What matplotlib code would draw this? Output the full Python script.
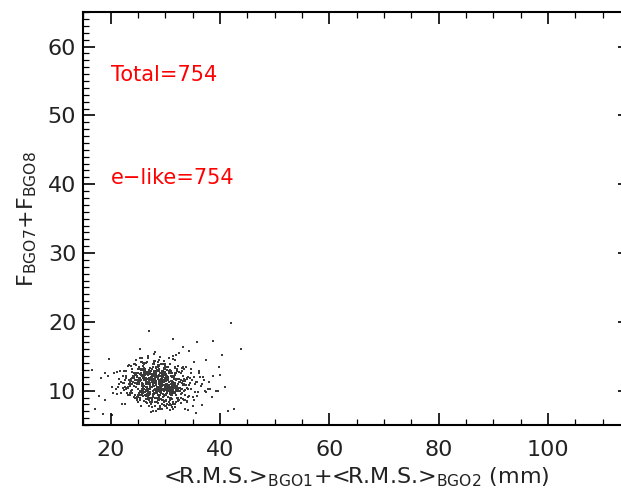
import numpy as np
import matplotlib
matplotlib.use("Agg")
import matplotlib.pyplot as plt
from matplotlib.ticker import MultipleLocator

plt.rcParams['font.family'] = ['DejaVu Sans']
plt.rcParams['mathtext.default'] = 'regular'

# <R.M.S.>_BGO1 + <R.M.S.>_BGO2 (mm) for each selected event
rms_sum = [
    28.4, 31.2, 26.7, 29.9, 33.5, 24.8, 27.3, 30.6, 22.9, 29.1, 35.2, 27.8, 25.6, 31.9, 28.7, 30.3, 26.1, 23.7, 32.4, 29.5, 27.0, 34.1, 28.9, 25.2, 30.8, 21.4,
    29.7, 26.4, 32.8, 28.1, 24.3, 30.1, 27.5, 36.4, 29.3, 25.9, 31.5, 28.6, 22.5, 30.9, 27.2, 33.1, 26.8, 29.0, 24.6, 31.7, 28.3, 19.8, 30.4, 27.7, 34.8, 26.2,
    30.2, 25.4, 28.8, 32.1, 27.1, 29.6, 23.9, 31.3, 26.5, 38.2, 28.0, 30.7, 25.1, 29.4, 33.8, 27.6, 24.1, 31.0, 28.5, 26.0, 32.6, 29.8, 21.9, 27.4, 30.5, 35.7,
    27.9, 31.6, 24.9, 29.2, 26.3, 33.3, 28.2, 30.0, 22.2, 27.0, 31.8, 25.7, 29.5, 34.5, 26.9, 28.4, 32.3, 23.4, 30.6, 27.3, 29.0, 36.9, 25.3, 31.1, 28.7, 26.6,
    32.0, 27.8, 29.9, 24.4, 30.3, 26.2, 28.6, 33.7, 25.8, 31.4, 20.7, 29.3, 27.1, 30.8, 35.0, 26.7, 28.9, 23.1, 31.2, 29.7, 25.5, 32.9, 27.5, 30.1, 24.0, 28.3,
    26.4, 30.9, 28.1, 33.9, 25.0, 29.6, 31.5, 27.2, 22.8, 30.4, 28.8, 26.1, 37.5, 29.1, 24.7, 31.9, 27.7, 30.0, 26.9, 34.2, 28.5, 23.6, 32.5, 29.4, 25.9, 30.7,
    29.0, 24.5, 31.7, 27.4, 30.2, 26.6, 33.0, 28.0, 21.2, 29.8, 32.2, 25.6, 28.7, 30.5, 27.3, 35.9, 26.3, 31.0, 24.2, 29.2, 28.2, 32.7, 25.4, 30.3, 27.9, 18.6,
    31.3, 28.6, 25.2, 30.1, 27.6, 34.0, 29.5, 23.3, 31.6, 26.8, 28.9, 32.4, 24.8, 30.6, 27.1, 29.9, 33.6, 25.7, 28.4, 31.1, 22.4, 29.3, 26.5, 30.8, 36.2, 27.8,
    27.5, 30.0, 32.9, 26.2, 29.7, 24.6, 31.2, 28.3, 25.9, 33.4, 29.0, 27.0, 30.7, 23.0, 28.8, 31.8, 26.4, 29.6, 34.7, 25.1, 30.4, 27.7, 32.1, 28.1, 24.3, 30.9,
    28.9, 25.8, 31.4, 29.1, 27.2, 30.5, 22.1, 32.6, 26.7, 29.4, 35.4, 28.0, 24.9, 31.0, 27.6, 30.2, 26.0, 33.2, 29.8, 23.8, 28.5, 31.5, 25.3, 30.1, 27.3, 39.6,
    30.6, 27.0, 24.1, 29.3, 32.3, 26.5, 28.7, 31.1, 25.5, 30.8, 27.9, 34.3, 29.0, 23.5, 28.2, 31.7, 26.9, 29.9, 33.1, 25.0, 30.3, 28.4, 21.6, 27.4, 32.0, 29.5,
    26.1, 29.6, 31.9, 28.1, 24.7, 30.0, 27.8, 33.5, 25.6, 29.2, 31.3, 26.3, 28.6, 36.6, 30.4, 27.1, 24.4, 32.8, 29.7, 26.8, 31.6, 28.3, 22.7, 30.9, 27.5, 25.2,
    31.0, 28.8, 25.9, 30.2, 33.9, 27.3, 29.4, 24.0, 31.8, 28.0, 26.6, 30.6, 23.2, 29.1, 32.5, 27.7, 25.4, 30.1, 28.5, 35.3, 26.2, 29.8, 31.4, 24.8, 28.9, 20.3,
    29.3, 26.0, 32.2, 27.6, 30.7, 25.3, 28.2, 31.5, 29.0, 24.5, 33.0, 27.2, 30.3, 26.4, 28.7, 37.9, 29.6, 25.8, 31.2, 27.9, 22.3, 30.0, 28.4, 32.7, 26.7, 29.1,
    27.4, 31.1, 28.9, 24.2, 30.5, 26.9, 32.9, 29.5, 25.1, 28.1, 31.7, 27.0, 34.6, 29.9, 23.9, 30.8, 26.3, 28.6, 33.3, 25.7, 29.2, 31.3, 27.8, 21.0, 30.2, 28.3,
    30.1, 25.5, 28.4, 31.9, 27.1, 29.7, 23.4, 32.4, 26.2, 30.6, 28.0, 35.6, 24.6, 29.3, 31.0, 27.5, 26.5, 33.7, 28.8, 30.4, 25.0, 29.0, 32.0, 27.7, 22.6, 38.7,
    28.6, 32.5, 26.8, 30.3, 24.9, 29.5, 27.3, 31.4, 25.9, 28.2, 33.6, 29.8, 26.1, 30.9, 23.7, 28.7, 31.8, 27.2, 34.9, 25.4, 29.6, 30.0, 26.6, 32.3, 28.1, 24.4,
    25.7, 29.4, 31.6, 27.9, 30.1, 22.0, 28.5, 32.6, 26.4, 29.2, 24.1, 31.2, 27.5, 30.7, 28.9, 35.1, 25.6, 29.9, 33.4, 26.9, 28.0, 30.5, 23.6, 31.9, 27.0, 29.5,
    31.4, 27.7, 24.8, 30.0, 28.3, 33.8, 26.5, 29.6, 25.2, 31.1, 28.6, 21.8, 30.4, 27.4, 32.9, 29.1, 26.0, 34.4, 28.2, 30.8, 25.8, 29.7, 27.1, 36.8, 24.3, 30.2,
    27.8, 30.6, 29.0, 25.4, 32.1, 28.8, 26.3, 31.3, 23.1, 29.9, 27.6, 30.1, 34.2, 26.7, 28.4, 31.7, 24.7, 29.3, 27.2, 33.0, 30.9, 25.9, 28.7, 22.9, 31.5, 26.1,
    29.8, 26.6, 31.0, 28.5, 24.0, 30.3, 27.5, 35.5, 29.2, 25.6, 32.8, 28.1, 30.7, 26.2, 23.3, 29.6, 31.8, 27.3, 30.0, 25.1, 28.9, 33.5, 26.8, 29.4, 20.5, 31.2,
    26.9, 30.4, 28.2, 32.4, 25.3, 29.1, 27.0, 31.9, 24.5, 30.6, 28.6, 26.4, 33.9, 29.7, 22.7, 27.8, 31.4, 28.0, 25.7, 30.2, 34.8, 27.4, 29.0, 32.2, 26.0, 37.2,
    30.0, 27.2, 25.0, 29.5, 31.7, 28.4, 26.1, 33.2, 24.2, 30.8, 27.9, 29.3, 23.5, 31.1, 28.7, 26.5, 32.5, 29.8, 25.5, 30.3, 27.6, 36.0, 28.1, 21.5, 31.6, 29.0,
    28.5, 31.8, 26.3, 30.1, 24.6, 29.6, 27.1, 32.7, 25.8, 28.8, 30.5, 23.0, 29.4, 34.1, 26.8, 31.3, 27.7, 28.3, 25.2, 30.9, 33.6, 26.6, 29.1, 24.9, 31.0, 27.3,
    29.2, 25.7, 31.5, 27.5, 30.4, 26.0, 28.6, 32.0, 24.3, 29.9, 27.0, 35.8, 30.7, 25.4, 28.9, 31.2, 22.5, 29.5, 26.7, 33.1, 28.0, 30.2, 27.8, 24.0, 32.3, 19.5,
    31.1, 28.1, 26.4, 29.7, 24.8, 30.6, 27.4, 33.4, 25.6, 28.5, 31.6, 26.9, 29.0, 23.8, 30.0, 27.2, 34.6, 28.7, 25.1, 31.9, 29.3, 26.2, 30.5, 22.2, 28.3, 37.0,
    27.6, 30.3, 29.5, 25.3, 32.6, 28.0, 26.5, 31.0, 23.6, 29.8, 27.9, 30.8, 25.9, 33.7, 28.4, 26.1, 31.4, 29.1, 24.4, 30.1, 27.3, 35.2, 28.8, 25.0, 32.1, 21.1,
    30.5, 26.8, 28.3, 31.3, 24.1, 29.4, 27.7, 32.8, 25.8, 30.0, 28.6, 26.3, 34.0, 29.6, 23.2, 31.5, 27.0, 28.9, 25.5, 30.7, 33.3, 27.4, 29.2, 22.8, 31.7, 38.5,
    42.1, 27.1, 43.8, 31.5, 38.7, 35.8, 40.4, 42.6, 17.1, 16.6, 41.0, 39.2, 18.2, 37.4, 17.8, 40.1, 36.8, 19.0, 38.0, 33.2, 34.4, 18.9, 39.8, 36.1, 20.2, 41.5,
]

# F_BGO7 + F_BGO8 for the same events
f_sum = [
    11.2, 9.8, 12.5, 10.4, 13.1, 8.7, 11.7, 10.0, 12.9, 9.3, 14.2, 10.9, 7.8, 11.5, 12.2, 9.6, 10.7, 13.6, 8.9, 11.0, 12.7, 10.2, 9.1, 11.9, 7.2, 10.5,
    10.8, 12.4, 9.5, 11.3, 13.8, 10.1, 8.4, 12.0, 11.6, 9.9, 15.1, 10.6, 12.8, 8.1, 11.1, 13.3, 9.7, 10.3, 12.3, 7.6, 11.4, 14.6, 10.0, 9.2, 12.6, 11.8,
    9.4, 11.5, 13.0, 10.7, 8.6, 12.1, 11.0, 9.9, 14.0, 10.3, 12.5, 7.9, 11.3, 10.1, 13.5, 9.0, 11.8, 12.2, 8.3, 10.9, 15.4, 11.6, 9.6, 12.9, 10.4, 6.8,
    12.3, 10.6, 9.1, 11.4, 13.2, 8.8, 10.2, 12.7, 11.1, 9.5, 14.4, 10.8, 7.4, 11.9, 12.4, 10.0, 8.5, 13.7, 11.2, 9.8, 10.5, 12.0, 16.0, 9.3, 11.7, 10.9,
    10.3, 13.4, 11.8, 9.0, 12.2, 10.7, 8.2, 11.5, 14.8, 10.1, 12.6, 9.7, 11.0, 13.0, 7.7, 10.6, 12.8, 9.4, 11.3, 10.0, 14.1, 8.9, 11.9, 12.4, 9.6, 10.8,
    11.6, 8.7, 12.9, 10.4, 9.3, 13.9, 11.1, 10.2, 12.1, 7.5, 11.4, 13.3, 9.8, 10.9, 12.5, 8.4, 11.7, 10.5, 15.0, 9.1, 12.2, 10.7, 11.3, 8.0, 13.6, 10.1,
    9.9, 12.3, 10.8, 11.5, 8.6, 12.7, 10.3, 14.3, 9.5, 11.2, 13.1, 10.0, 7.3, 12.0, 11.0, 9.2, 12.6, 10.6, 13.8, 8.8, 11.8, 10.4, 12.4, 9.7, 11.3, 6.6,
    12.1, 10.5, 9.6, 13.5, 11.3, 8.5, 12.8, 10.9, 11.7, 9.0, 14.5, 10.2, 12.2, 8.3, 11.6, 13.2, 9.4, 10.7, 12.0, 7.9, 11.1, 13.9, 10.1, 9.8, 12.5, 11.4,
    10.6, 11.9, 8.9, 12.6, 10.0, 13.7, 9.3, 11.2, 12.3, 10.8, 7.7, 11.5, 14.7, 9.7, 12.9, 10.4, 11.0, 8.6, 13.1, 10.2, 12.1, 9.1, 11.7, 15.6, 10.7, 9.5,
    11.0, 13.0, 10.3, 9.4, 12.4, 11.6, 8.1, 12.7, 10.5, 11.3, 9.8, 14.0, 10.9, 12.2, 7.6, 11.8, 10.1, 13.4, 9.2, 11.4, 12.8, 10.6, 8.7, 12.0, 11.1, 10.0,
    12.5, 9.6, 11.2, 10.7, 13.6, 8.8, 12.0, 10.4, 11.5, 9.0, 12.7, 10.8, 14.9, 11.3, 8.4, 12.3, 10.0, 11.9, 9.7, 13.2, 10.6, 7.1, 11.7, 12.9, 9.4, 10.9,
    10.2, 12.8, 9.3, 11.6, 10.5, 13.9, 11.1, 8.6, 12.4, 10.0, 11.4, 9.8, 13.0, 10.7, 12.1, 7.8, 11.5, 10.3, 14.3, 9.1, 11.8, 12.6, 10.6, 9.5, 11.2, 13.5,
    11.4, 9.2, 12.2, 10.8, 8.3, 12.9, 11.0, 10.1, 13.3, 9.6, 11.7, 12.5, 10.4, 7.4, 11.3, 13.8, 9.9, 10.9, 12.0, 8.7, 11.6, 10.3, 14.6, 9.0, 12.3, 10.6,
    9.7, 11.9, 10.5, 13.1, 11.2, 8.9, 12.6, 10.0, 11.5, 9.4, 12.8, 10.7, 8.0, 11.8, 13.4, 10.2, 9.5, 12.1, 11.0, 15.3, 10.4, 8.5, 12.4, 11.3, 9.9, 10.8,
    12.0, 10.6, 11.3, 9.1, 13.5, 10.9, 8.2, 12.3, 11.6, 10.1, 9.7, 13.0, 11.1, 7.7, 12.7, 10.5, 11.8, 9.3, 10.8, 14.1, 11.4, 8.8, 12.2, 10.3, 11.0, 9.6,
    10.4, 12.5, 9.0, 11.7, 10.2, 13.2, 11.5, 8.7, 12.0, 10.8, 9.5, 11.2, 14.4, 10.6, 12.9, 8.4, 11.9, 10.1, 13.6, 9.8, 11.3, 12.6, 10.0, 7.0, 11.6, 12.1,
    11.8, 9.9, 12.4, 10.3, 11.1, 8.6, 13.3, 10.7, 9.2, 12.2, 11.4, 10.0, 13.9, 9.6, 11.7, 12.8, 8.1, 10.9, 11.5, 9.4, 12.6, 10.5, 14.2, 11.0, 8.9, 12.3,
    9.3, 11.6, 10.8, 12.7, 8.5, 11.2, 13.0, 10.4, 11.9, 9.8, 12.1, 7.6, 10.6, 11.3, 13.7, 9.1, 12.4, 10.2, 11.0, 8.8, 12.9, 10.7, 9.6, 15.2, 11.5, 10.1,
    12.2, 10.0, 11.5, 9.4, 13.4, 10.8, 8.3, 12.0, 11.2, 9.7, 10.5, 12.8, 11.7, 8.9, 12.5, 10.3, 14.0, 9.2, 11.1, 10.6, 13.1, 7.9, 11.8, 10.9, 12.6, 9.5,
    10.7, 12.9, 9.8, 11.4, 10.1, 8.6, 12.3, 11.0, 13.6, 9.3, 11.7, 10.4, 12.0, 8.2, 11.3, 10.8, 14.5, 9.6, 12.7, 11.1, 10.0, 13.2, 9.0, 11.9, 7.3, 12.4,
    11.3, 9.5, 12.6, 10.2, 11.8, 13.0, 8.7, 10.9, 12.1, 9.9, 11.5, 7.8, 10.6, 12.8, 11.0, 9.1, 13.5, 10.4, 11.6, 8.4, 12.2, 10.0, 14.8, 11.2, 9.7, 12.5,
    10.0, 12.1, 11.4, 8.8, 13.1, 10.5, 9.4, 12.5, 11.1, 10.7, 14.1, 9.2, 11.8, 12.4, 8.0, 10.9, 11.3, 13.8, 9.7, 12.0, 10.3, 11.6, 7.5, 12.8, 10.6, 9.9,
    12.7, 10.3, 9.1, 11.9, 10.8, 13.3, 8.5, 11.4, 12.2, 9.6, 10.1, 12.6, 11.0, 9.0, 13.7, 10.6, 11.7, 8.3, 12.3, 10.2, 11.2, 9.8, 14.3, 10.9, 12.0, 11.5,
    9.6, 11.1, 12.9, 10.6, 8.9, 12.4, 11.5, 10.0, 13.2, 9.3, 11.8, 10.4, 12.1, 7.2, 11.3, 10.8, 9.5, 12.7, 11.0, 13.9, 8.6, 10.2, 12.5, 11.6, 9.9, 10.7,
    11.7, 10.2, 8.4, 12.3, 11.0, 9.7, 13.5, 10.5, 11.9, 12.6, 9.0, 11.3, 10.8, 14.7, 8.8, 12.0, 10.1, 11.5, 9.4, 12.9, 10.7, 7.7, 11.2, 13.1, 10.0, 12.2,
    10.9, 12.8, 11.3, 9.2, 12.0, 10.4, 8.1, 11.7, 13.0, 10.6, 9.8, 12.3, 11.1, 10.0, 13.6, 9.5, 11.9, 8.7, 12.5, 10.3, 11.4, 14.0, 9.1, 12.1, 10.8, 11.6,
    12.4, 9.9, 10.7, 11.8, 8.6, 12.9, 11.2, 10.1, 9.4, 13.3, 11.6, 10.5, 12.2, 7.4, 11.0, 12.6, 9.7, 10.9, 13.8, 11.4, 8.3, 12.0, 10.2, 11.5, 9.0, 12.7,
    10.5, 11.3, 12.7, 9.6, 11.9, 10.2, 13.4, 8.9, 11.1, 12.3, 10.0, 9.3, 11.7, 12.9, 10.6, 8.0, 11.4, 13.1, 9.8, 10.8, 12.1, 6.9, 11.6, 10.3, 12.5, 9.1,
    19.9, 18.7, 16.1, 17.5, 17.2, 17.1, 15.2, 7.4, 7.3, 13.0, 10.6, 9.9, 11.8, 14.5, 9.2, 12.3, 7.9, 12.6, 11.2, 16.4, 15.8, 8.6, 13.4, 12.8, 6.5, 7.0,
]

n_total = len(rms_sum)
n_elike = len(rms_sum)

fig = plt.figure(figsize=(6.21, 4.88), dpi=100)
ax = fig.add_axes([0.134, 0.129, 0.8805, 0.846])

ax.scatter(rms_sum, f_sum, s=3, marker='s', color='#3a3a3a', linewidths=0)

ax.set_xlim(15, 115)
ax.set_ylim(5, 65)
ax.xaxis.set_major_locator(MultipleLocator(20))
ax.xaxis.set_minor_locator(MultipleLocator(5))
ax.yaxis.set_major_locator(MultipleLocator(10))
ax.yaxis.set_minor_locator(MultipleLocator(1))

ax.tick_params(which='both', direction='in', top=True, right=True, colors='black')
ax.tick_params(which='major', length=8.5, width=1.2, labelsize=16, labelcolor='#222222')
ax.tick_params(which='minor', length=4.3, width=0.9)
ax.tick_params(axis='x', which='major', pad=11)
ax.tick_params(axis='y', which='major', pad=5)
for sp in ax.spines.values():
    sp.set_linewidth(1.5)

ax.set_xlabel(r'<R.M.S.>$_{BGO1}$+<R.M.S.>$_{BGO2}$ (mm)', fontsize=16,
              labelpad=4, color='#222222')
ax.set_ylabel(r'F$_{BGO7}$+F$_{BGO8}$', fontsize=16, labelpad=6, color='#222222')

ax.text(20, 55, f'Total={n_total}', color='red', fontsize=15, va='baseline')
ax.text(20, 40, f'e\u2212like={n_elike}', color='red', fontsize=15, va='baseline')

fig.savefig('out.png', dpi=100)
